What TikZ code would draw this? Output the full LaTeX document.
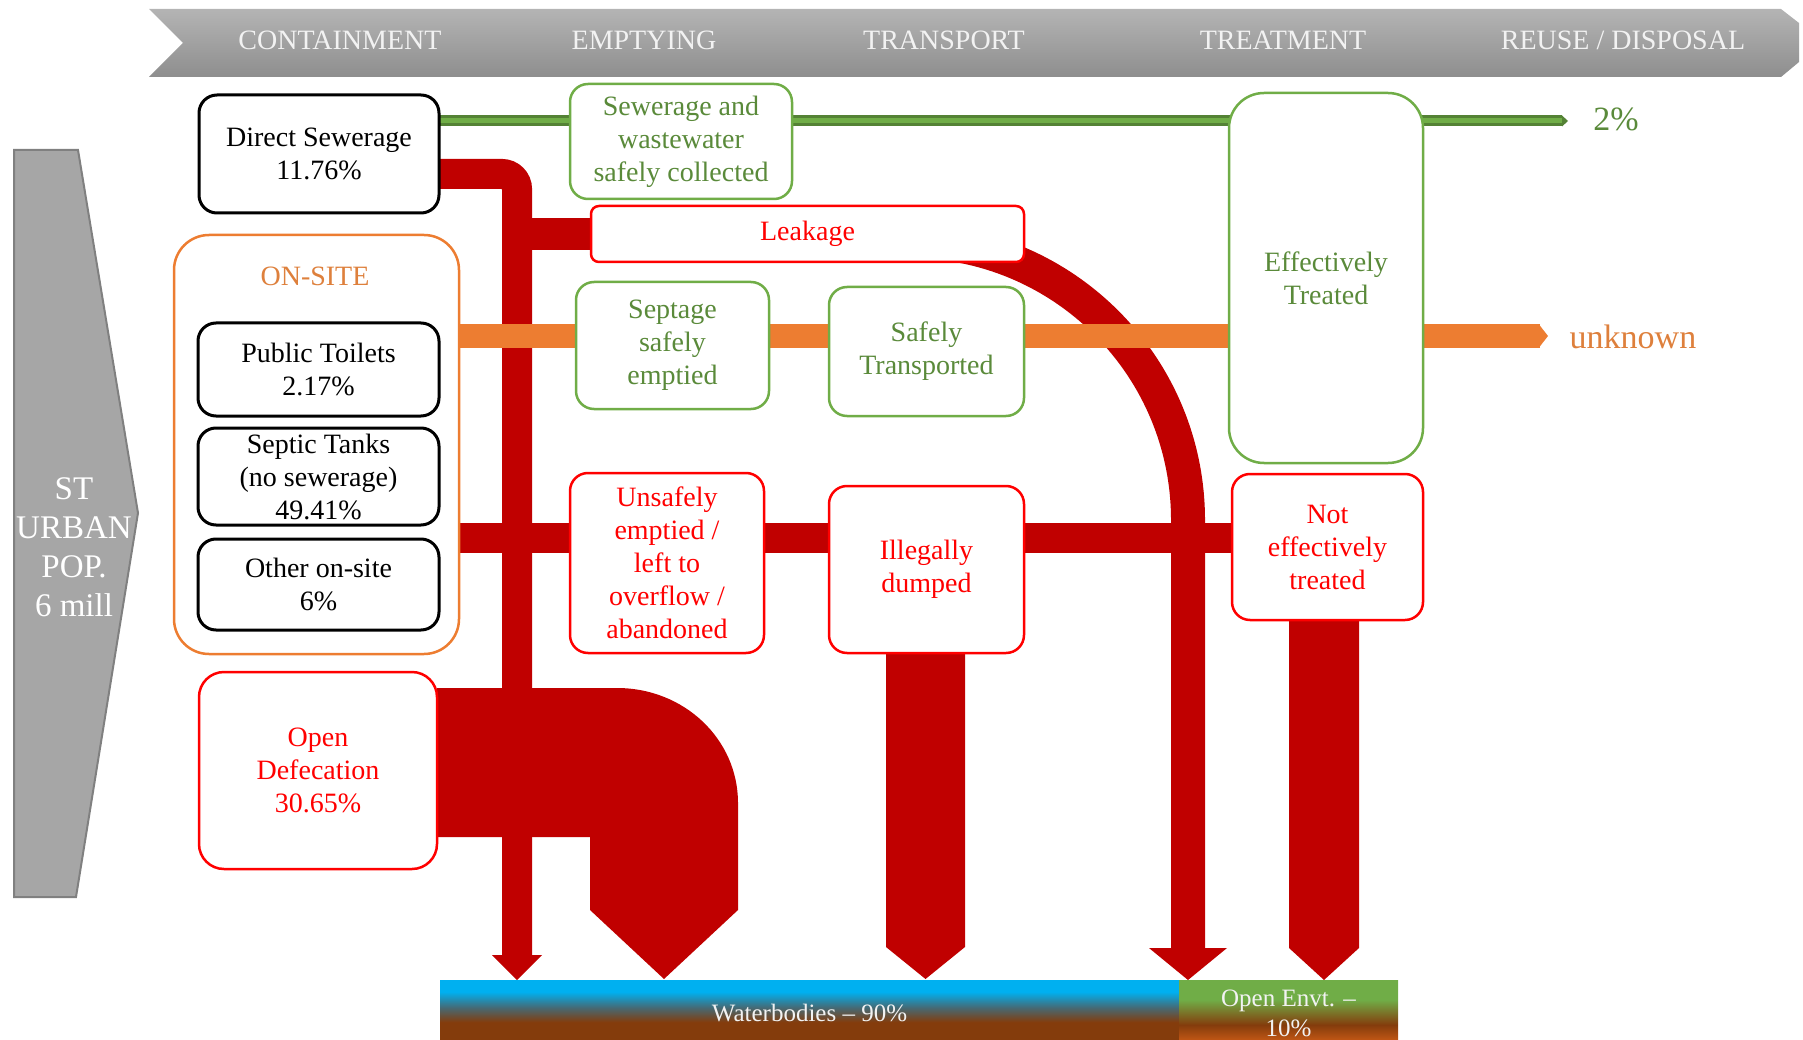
\documentclass[tikz,border=0pt]{standalone}
\usepackage{fontspec}
\setmainfont{Liberation Serif}
\usetikzlibrary{calc,backgrounds}

\definecolor{pipered}{RGB}{192,0,0}
\definecolor{boxred}{RGB}{255,0,0}
\definecolor{boxgreen}{RGB}{112,173,71}
\definecolor{darkgreen}{RGB}{84,130,53}
\definecolor{textgreen}{RGB}{90,138,58}
\definecolor{pipeorange}{RGB}{237,125,49}
\definecolor{textorange}{RGB}{222,128,60}
\definecolor{popgray}{RGB}{166,166,166}
\definecolor{popedge}{RGB}{128,128,128}
\definecolor{bannertop}{RGB}{180,180,180}
\definecolor{bannerbot}{RGB}{142,142,142}
\definecolor{stagetext}{RGB}{242,242,242}
\definecolor{wblue}{RGB}{0,176,240}
\definecolor{wmid}{RGB}{70,105,115}
\definecolor{wbrown}{RGB}{132,60,12}
\definecolor{eorange}{RGB}{190,85,20}

\pgfdeclareverticalshading{waterfade}{100bp}{color(0bp)=(wbrown); color(43bp)=(wbrown); color(54bp)=(wmid); color(66bp)=(wblue); color(100bp)=(wblue)}
\pgfdeclareverticalshading{groundfade}{100bp}{color(0bp)=(eorange); color(30bp)=(eorange); color(41bp)=(wbrown); color(60bp)=(boxgreen); color(100bp)=(boxgreen)}

\newcommand{\boxtext}{\fontsize{28}{33}\selectfont}
\newcommand{\poptext}{\fontsize{33}{39}\selectfont}

\begin{document}
\begin{tikzpicture}[x=1pt, y=-1pt, inner sep=0pt, outer sep=0pt,
    box/.style={draw, fill=white, rounded corners=18pt, align=center, font=\boxtext, line width=2.5pt},
    blackbox/.style={box, draw=black, line width=3pt, minimum width=241pt},
    redbox/.style={box, draw=boxred, text=boxred},
    greenbox/.style={box, draw=boxgreen, text=textgreen},
    stage/.style={text=stagetext, font=\boxtext},
    pipe/.style={draw=pipered, line width=30pt},
    outlet/.style={fill=pipered}]
    \useasboundingbox (0,0) rectangle (1803,1040);

    % service chain banner
    \shade[top color=bannertop, bottom color=bannerbot] (149,9) -- (1781,9) -- (1799,23) -- (1799,62) -- (1781,77) -- (149,77) -- (183,43) -- cycle;
    \foreach \x/\lab [count=\i] in {340/CONTAINMENT, 644/EMPTYING, 944/TRANSPORT, 1283/TREATMENT, 1623/{REUSE / DISPOSAL}}
        \node[stage] (stage\i) at (\x,40) {\lab};

    \filldraw[fill=popgray, draw=popedge, line width=2pt] (14,150) -- (78,150) -- (138,513) -- (76,897) -- (14,897) -- cycle;
    \node[text=white, font=\poptext, align=center] (pop) at (74,547) {ST\\URBAN\\POP.\\6 mill};

    % containment
    \node[blackbox, minimum width=240pt, minimum height=118pt] (direct) at (319,154) {Direct Sewerage\\11.76\%};
    \node[box, draw=pipeorange, rounded corners=35pt, minimum width=285pt, minimum height=419pt] (onsite) at (316.5,444.5) {};
    \node[text=textorange, font=\boxtext] (onsitelab) at (315,276) {ON-SITE};
    \node[blackbox, minimum height=93pt] (toilets) at (318.5,369.5) {Public Toilets\\2.17\%};
    \node[blackbox, minimum height=97pt] (septic) at (318.5,476.5) {Septic Tanks\\(no sewerage)\\49.41\%};
    \node[blackbox, minimum height=91pt] (othersite) at (318.5,584.5) {Other on-site\\6\%};
    \node[redbox, rounded corners=25pt, minimum width=238pt, minimum height=197pt] (opendef) at (318,770.5) {Open\\Defecation\\30.65\%};

    % emptying and transport
    \node[greenbox, minimum width=222pt, minimum height=115pt] (sewcol) at (681,141.5) {Sewerage and\\wastewater\\safely collected};
    \node[redbox, rounded corners=8pt, minimum width=433pt, minimum height=56pt] (leakage) at (807.5,234) {Leakage};
    \node[greenbox, minimum width=193pt, minimum height=127pt] (septage) at (672.5,345.5) {Septage\\safely\\emptied};
    \node[greenbox, minimum width=195pt, minimum height=129pt] (transp) at (926.5,351.5) {Safely\\Transported};
    \node[redbox, minimum width=194pt, minimum height=180pt] (unsafe) at (667,563) {Unsafely\\emptied /\\left to\\overflow /\\abandoned};
    \node[redbox, minimum width=195pt, minimum height=167pt] (dumped) at (926.5,569.5) {Illegally\\dumped};

    % treatment
    \node[greenbox, rounded corners=35pt, minimum width=194pt, minimum height=370pt] (treated) at (1326,278) {Effectively\\Treated};
    \node[redbox, minimum width=191pt, minimum height=146pt] (nottreated) at (1327.5,547) {Not\\effectively\\treated};
    \node[text=textgreen, font=\fontsize{34}{40}\selectfont] (reuse) at (1616,119) {2\%};
    \node[text=textorange, font=\fontsize{34}{40}\selectfont] (unknown) at (1633,337) {unknown};

    % disposal
    \node[shade, shading=waterfade, minimum width=739pt, minimum height=66pt, text=stagetext, font=\fontsize{25}{30}\selectfont] (water) at (809.5,1013) {Waterbodies -- 90\%};
    \node[shade, shading=groundfade, minimum width=219pt, minimum height=66pt, text=stagetext, font=\fontsize{25}{30}\selectfont, align=center] (openenv) at (1288.5,1013) {Open Envt. --\\10\%};

    \coordinate (sewline) at (517,174);
    \coordinate (greenline) at (0,121);
    \coordinate (orangeline) at (0,336);
    \coordinate (redline) at (0,538);

    \begin{scope}[on background layer]
        \draw[pipe, rounded corners=15pt] (direct.east |- sewline) -- (sewline) -- ($(sewline |- water.north)+(0,-24)$);
        \fill[outlet] ($(sewline |- water.north)+(-25,-25)$) -- ($(sewline |- water.north)+(25,-25)$) -- (sewline |- water.north) -- cycle;
        \draw[pipe, line width=32pt] (sewline |- leakage.west) -- (leakage.west);
        % leakage bend
        \draw[pipe, line width=34pt, rounded corners=279pt] (909,241) -- (1188,241) -- (1188,949);
        \fill[outlet] (1149,948) -- (1227,948) -- (1188,980) -- cycle;
        \draw[pipe] (onsite.east |- redline) -- (nottreated.west |- redline);
        \fill[outlet] ($(opendef.east)+(0,-82.5)$) -- (617,688) .. controls (684,688) and (738,739) .. (738,803) -- (738,910) -- (664,979) -- (590,910) -- (590,837) -- ($(opendef.east)+(0,66.5)$) -- cycle;
        \fill[outlet] ($(dumped.south)+(-40.5,0)$) -- ($(dumped.south)+(38.5,0)$) -- (965,947) -- (925.5,979) -- (886,947) -- cycle;
        \fill[outlet] ($(nottreated.south)+(-38.5,0)$) -- ($(nottreated.south)+(31.5,0)$) -- (1359,948) -- (1324,980) -- (1289,948) -- cycle;
        % safe streams
        \draw[pipeorange, line width=23pt] (onsite.east |- orangeline) -- (1540,336);
        \fill[pipeorange] (1539,324.5) -- (1548,336) -- (1539,347.5) -- cycle;
        \draw[darkgreen, line width=11pt] (direct.east |- greenline) -- (1562,121);
        \draw[boxgreen, line width=5pt] (direct.east |- greenline) -- (1562,121);
        \fill[darkgreen] (1562,115.5) -- (1568,121) -- (1562,126.5) -- cycle;
    \end{scope}
\end{tikzpicture}
\end{document}
